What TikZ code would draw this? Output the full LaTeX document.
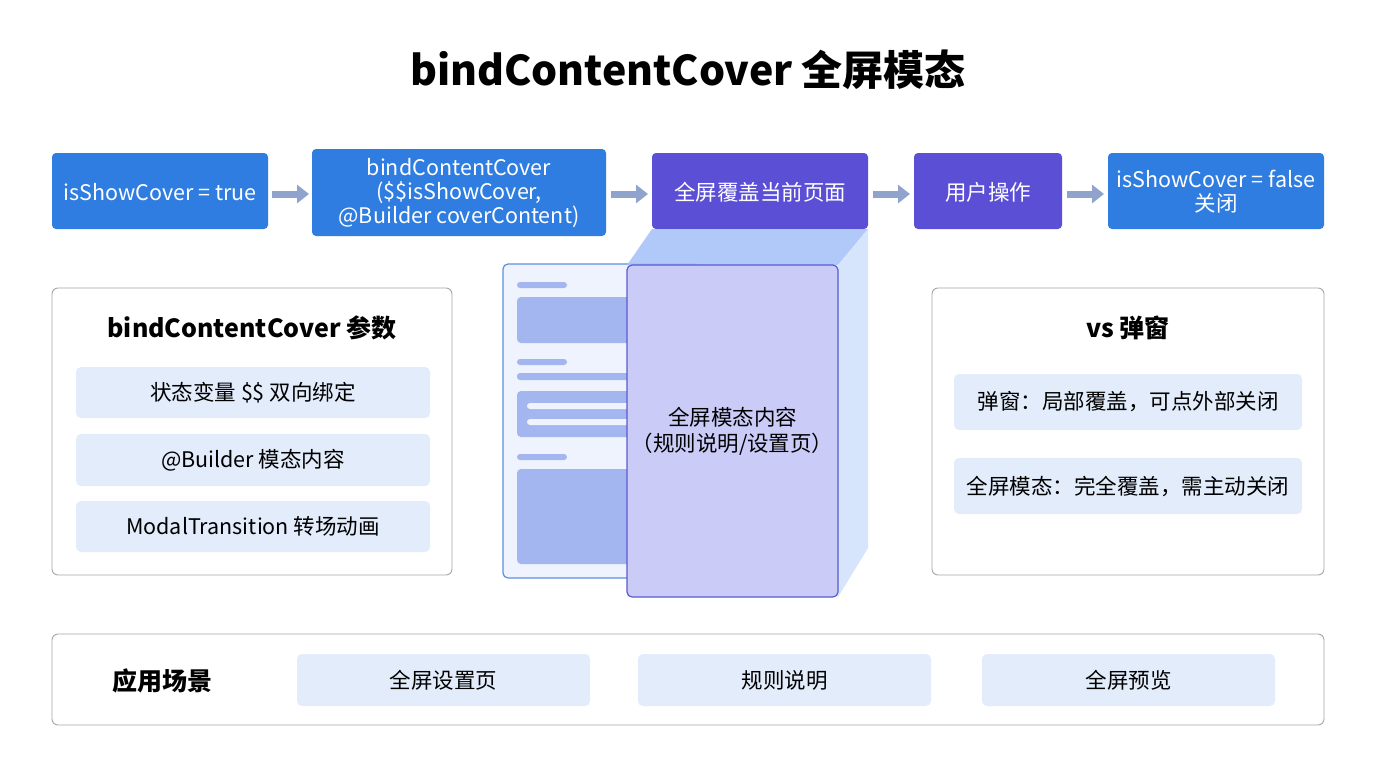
\documentclass[tikz,border=0pt]{standalone}
\usepackage{fontspec}
\usetikzlibrary{arrows.meta}
\setmainfont{Noto Sans CJK SC}
\newcommand{\fs}{\fontsize{21.5}{24}\selectfont}
\begin{document}
\begin{tikzpicture}[x=1pt,y=-1pt,
  blu/.style={fill=c1,rounded corners=4pt,text=white,font=\fs,align=center},
  pur/.style={fill=c2,rounded corners=4pt,text=white,font=\fs,align=center},
  panel/.style={draw=gray!70,line width=0.9pt,fill=white,rounded corners=6pt},
  item/.style={fill=c3,rounded corners=5pt,font=\fs,align=center},
  ptitle/.style={font=\fontsize{25}{29}\selectfont\bfseries},
  arr/.style={-{Triangle[length=12pt,width=18pt]},line width=7pt,draw=c4}]
\definecolor{c1}{HTML}{2F7DE1}\definecolor{c2}{HTML}{5B4FD6}
\definecolor{c3}{HTML}{E3ECFB}\definecolor{c4}{HTML}{8FA3CC}
\definecolor{pg}{HTML}{EEF3FD}\definecolor{pgb}{HTML}{5B8FE0}
\definecolor{bar}{HTML}{A3B6F0}
\definecolor{top}{HTML}{A9C4F9}\definecolor{side}{HTML}{D6E4FC}
\useasboundingbox (0,0) rectangle (1376,768);
\fill[white] (0,0) rectangle (1376,768);
\node[font=\fontsize{41}{46}\selectfont\bfseries] (title) at (688,70) {bindContentCover 全屏模态};
% top row
\path[blu] (52,153) rectangle (268,229);
\node[blu,fill=none] (b1) at (160,192) {isShowCover = true};
\path[blu] (312,149) rectangle (606,236);
\node[blu,fill=none] (b2) at (459,193) {bindContentCover\\(\$\$isShowCover,\\@Builder coverContent)};
\path[pur] (652,153) rectangle (868,229);
\node[pur,fill=none] (b3) at (760,192) {全屏覆盖当前页面};
\path[pur] (914,153) rectangle (1062,229);
\node[pur,fill=none] (b4) at (988,192) {用户操作};
\path[blu] (1108,153) rectangle (1324,229);
\node[blu,fill=none] (b5) at (1216,192) {isShowCover = false\\关闭};
\coordinate (a1s) at (272,194);\coordinate (a1e) at (309,194);
\coordinate (a2s) at (611,194);\coordinate (a2e) at (648,194);
\coordinate (a3s) at (873,194);\coordinate (a3e) at (910,194);
\coordinate (a4s) at (1067,194);\coordinate (a4e) at (1104,194);
\draw[arr] (a1s)--(a1e); \draw[arr] (a2s)--(a2e); \draw[arr] (a3s)--(a3e); \draw[arr] (a4s)--(a4e);
% left panel
\path[panel] (52,288) rectangle (452,575);
\node[ptitle] (lt) at (252,328) {bindContentCover 参数};
\path[item] (76,367) rectangle (430,418); \node (l1) at (253,392.5) {\fs 状态变量 \$\$ 双向绑定};
\path[item] (76,434) rectangle (430,486); \node (l2) at (253,460) {\fs @Builder 模态内容};
\path[item] (76,501) rectangle (430,552); \node (l3) at (253,526.5) {\fs ModalTransition 转场动画};
% right panel
\path[panel] (932,288) rectangle (1324,575);
\node[ptitle] (rt) at (1128,328) {vs 弹窗};
\path[item] (954,374) rectangle (1302,430); \node (r1) at (1128,402) {\fs 弹窗：局部覆盖，可点外部关闭};
\path[item] (954,458) rectangle (1302,514); \node (r2) at (1128,486) {\fs 全屏模态：完全覆盖，需主动关闭};
% bottom panel
\path[panel] (52,634) rectangle (1324,725);
\node[ptitle] (bt) at (162,681) {应用场景};
\path[item] (297,654) rectangle (590,706); \node (s1) at (443.5,680) {\fs 全屏设置页};
\path[item] (638,654) rectangle (931,706); \node (s2) at (784.5,680) {\fs 规则说明};
\path[item] (982,654) rectangle (1275,706); \node (s3) at (1128.5,680) {\fs 全屏预览};
% center illustration
\fill[pg,draw=pgb,line width=1.2pt,rounded corners=5pt] (503,264) rectangle (700,578);
\fill[bar,rounded corners=3pt] (517,282) rectangle (567,288);
\fill[bar,rounded corners=4pt] (517,297) rectangle (640,343);
\fill[bar,rounded corners=3pt] (517,359) rectangle (567,365);
\fill[bar,rounded corners=3pt] (517,373) rectangle (640,380);
\fill[bar,rounded corners=4pt] (517,391) rectangle (640,437);
\fill[pg,rounded corners=3pt] (527,403) rectangle (640,409);
\fill[pg,rounded corners=3pt] (527,419) rectangle (640,425);
\fill[bar,rounded corners=3pt] (517,454) rectangle (567,460);
\fill[bar,rounded corners=4pt] (517,469) rectangle (640,564);
\fill[top,opacity=0.9] (652,229) -- (868,229) -- (838,265) -- (627,265) -- cycle;
\fill[side] (838,265) -- (868,229) -- (868,548) -- (838,597) -- cycle;
\draw[fill={rgb,255:red,203;green,203;blue,248},draw={rgb,255:red,90;green,90;blue,207},line width=1.2pt,rounded corners=5pt] (627,265) rectangle (838,597);
\node[font=\fontsize{21.5}{26}\selectfont,align=center] (fc) at (732.5,431) {全屏模态内容\\（规则说明/设置页）};
\end{tikzpicture}
\end{document}
